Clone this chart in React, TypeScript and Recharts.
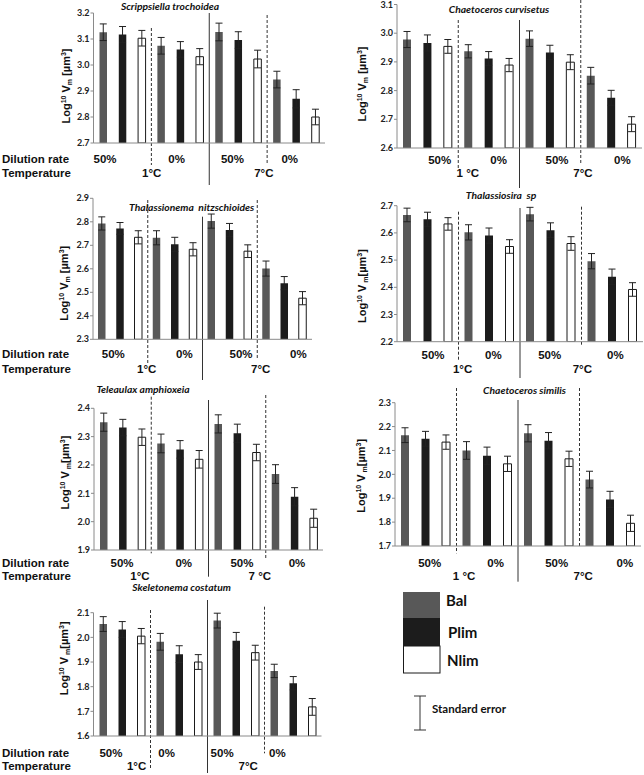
import React from 'react';
import { ComposedChart, Bar, Cell, XAxis, YAxis, ErrorBar, ReferenceLine } from 'recharts';

// ---------- data ----------
const treatments = ['Bal', 'Plim', 'Nlim'];
const dilutionLabels = ['50%', '0%', '50%', '0%'];
const temperatureLabels = ['1°C', '7°C'];
const temperatureLabelsSp1 = ['1 °C', '7°C'];
const temperatureLabelsSp7 = ['1°C', '7 °C'];

// order: 1°C 50% (Bal, Plim, Nlim), 1°C 0%, 7°C 50%, 7°C 0%
const scrippsiellaMean = [3.126, 3.117, 3.103, 3.074, 3.06, 3.032, 3.127, 3.096, 3.023, 2.944, 2.87, 2.8];
const scrippsiellaSE = [0.032, 0.031, 0.03, 0.032, 0.03, 0.031, 0.034, 0.032, 0.034, 0.032, 0.035, 0.03];
const curvisetusMean = [2.978, 2.966, 2.954, 2.937, 2.912, 2.889, 2.981, 2.933, 2.899, 2.852, 2.775, 2.683];
const curvisetusSE = [0.028, 0.028, 0.024, 0.023, 0.024, 0.023, 0.027, 0.025, 0.026, 0.029, 0.026, 0.026];
const thalassionemaMean = [2.793, 2.772, 2.734, 2.732, 2.704, 2.683, 2.803, 2.765, 2.675, 2.601, 2.539, 2.475];
const thalassionemaSE = [0.028, 0.025, 0.028, 0.03, 0.03, 0.028, 0.03, 0.028, 0.027, 0.032, 0.028, 0.028];
const thalassiosiraMean = [2.666, 2.65, 2.633, 2.602, 2.59, 2.55, 2.669, 2.61, 2.561, 2.496, 2.439, 2.392];
const thalassiosiraSE = [0.025, 0.026, 0.023, 0.028, 0.028, 0.025, 0.025, 0.027, 0.025, 0.028, 0.028, 0.025];
const teleaulaxMean = [2.351, 2.332, 2.298, 2.276, 2.255, 2.22, 2.345, 2.312, 2.244, 2.168, 2.088, 2.012];
const teleaulaxSE = [0.032, 0.029, 0.029, 0.033, 0.031, 0.031, 0.032, 0.032, 0.029, 0.033, 0.032, 0.032];
const similisMean = [2.164, 2.149, 2.135, 2.1, 2.078, 2.044, 2.172, 2.141, 2.065, 1.978, 1.895, 1.795];
const similisSE = [0.031, 0.031, 0.03, 0.037, 0.036, 0.032, 0.036, 0.034, 0.032, 0.035, 0.034, 0.034];
const skeletonemaMean = [2.054, 2.032, 2.005, 1.982, 1.932, 1.9, 2.068, 1.986, 1.938, 1.864, 1.814, 1.718];
const skeletonemaSE = [0.03, 0.032, 0.031, 0.034, 0.034, 0.03, 0.03, 0.034, 0.03, 0.027, 0.027, 0.034];

const ticksScrippsiella = [2.7, 2.8, 2.9, 3.0, 3.1, 3.2];
const ticksCurvisetus = [2.6, 2.7, 2.8, 2.9, 3.0, 3.1];
const ticksThalassionema = [2.3, 2.4, 2.5, 2.6, 2.7, 2.8, 2.9];
const ticksThalassiosira = [2.2, 2.3, 2.4, 2.5, 2.6, 2.7];
const ticksTeleaulax = [1.9, 2.0, 2.1, 2.2, 2.3, 2.4];
const ticksSimilis = [1.7, 1.8, 1.9, 2.0, 2.1, 2.2, 2.3];
const ticksSkeletonema = [1.6, 1.7, 1.8, 1.9, 2.0, 2.1];

// ---------- styles / layout ----------
const FILLS = ['#585858', '#1c1c1c', '#ffffff'];
const TICK_FONT = 'Lato, "Open Sans", sans-serif';
const ARIAL = '"Liberation Sans", Arial, sans-serif';

const panels = [
  {
    title: 'Scrippsiella trochoidea', mean: scrippsiellaMean, se: scrippsiellaSE, yTicks: ticksScrippsiella, temps: temperatureLabels,
    L: { box: [0, 0, 330, 192], plot: [93.5, 13, 325, 143], bar: 7.5, title: [170, 10], yl: [69.5, 86], yStyle: 'a', rows: [163, 176.5],
      dilAt: [0.6, 4.31, 7.2, 10.17], tempAt: [3.02, 8.83], solid: [13, 185], dash1: [28, 165], dash2: [15, 165], rowLabels: true },
  },
  {
    title: 'Chaetoceros curvisetus', mean: curvisetusMean, se: curvisetusSE, yTicks: ticksCurvisetus, temps: temperatureLabelsSp1,
    L: { box: [322, 0, 322, 192], plot: [397, 4.5, 642, 148], bar: 8, title: [499, 13], yl: [365.5, 84], yStyle: 'a', rows: [164, 176.5],
      dilAt: [2.09, 4.98, 7.84, 11.04], tempAt: [3.47, 9.11], solid: [20, 188], dash1: [20, 170], dash2: [0, 163], rowLabels: false },
  },
  {
    title: 'Thalassionema  nitzschioides', mean: thalassionemaMean, se: thalassionemaSE, yTicks: ticksThalassionema, temps: temperatureLabels,
    L: { box: [0, 188, 330, 195], plot: [93, 198.3, 312, 339.3], bar: 7.5, title: [191.7, 210.5], yl: [68.5, 283.3], yStyle: 'a', rows: [358.3, 372.5],
      dilAt: [1.11, 5.01, 8.11, 11.25], tempAt: [2.94, 9.19], solid: [216.7, 380], dash1: [200, 363], dash2: [200, 358], rowLabels: true },
  },
  {
    title: 'Thalassiosira  sp', mean: thalassiosiraMean, se: thalassiosiraSE, yTicks: ticksThalassiosira, temps: temperatureLabels,
    L: { box: [322, 188, 322, 195], plot: [397, 205.7, 643, 341.7], bar: 8, title: [501, 199], yl: [365.5, 286], yStyle: 'b', rows: [359, 373],
      dilAt: [1.76, 4.7, 7.45, 10.65], tempAt: [3.2, 9.04], solid: [208, 378], dash1: [211.7, 360], dash2: [206.7, 346.7], rowLabels: false },
  },
  {
    title: 'Teleaulax amphioxeia', mean: teleaulaxMean, se: teleaulaxSE, yTicks: ticksTeleaulax, temps: temperatureLabelsSp7,
    L: { box: [0, 383, 330, 200], plot: [94, 408.3, 323, 550], bar: 7.5, title: [143, 393], yl: [68.5, 472.5], yStyle: 'b', rows: [566.7, 580],
      dilAt: [1.47, 4.7, 7.75, 10.64], tempAt: [2.41, 8.69], solid: [400, 576.7], dash1: [396.7, 553.3], dash2: [395, 558], rowLabels: true },
  },
  {
    title: 'Chaetoceros similis', mean: similisMean, se: similisSE, yTicks: ticksSimilis, temps: temperatureLabelsSp1,
    L: { box: [322, 383, 322, 200], plot: [395, 402.7, 641, 546], bar: 8, title: [524.5, 394], yl: [365.5, 475.8], yStyle: 'b', rows: [566.7, 580],
      dilAt: [1.69, 4.91, 7.89, 11.21], tempAt: [3.37, 9.18], solid: [400, 581.7], dash1: [388, 553.3], dash2: [388, 546.7], rowLabels: false },
  },
  {
    title: 'Skeletonema costatum', mean: skeletonemaMean, se: skeletonemaSE, yTicks: ticksSkeletonema, temps: temperatureLabels,
    L: { box: [0, 580, 330, 195], plot: [93.5, 612.7, 321.5, 736], bar: 7.5, title: [181.7, 591], yl: [68.5, 658.3], yStyle: 'b', rows: [756.7, 770],
      dilAt: [0.92, 3.85, 6.77, 9.68], tempAt: [2.27, 8.14], solid: [600, 773], dash1: [610, 768], dash2: [606.7, 753.3], rowLabels: true },
  },
];

const H1 = 12;
const H2 = 12;
const YW = 30;

function Panel({ p }: { p: any }) {
  const L = p.L;
  const [bl, bt, bw, bh] = L.box;
  const [pl, pt, pr, pb] = L.plot;
  const yMin = p.yTicks[0];
  const yMax = p.yTicks[p.yTicks.length - 1];
  const pxToVal = (py: number) => yMin + ((pb - py) / (pb - pt)) * (yMax - yMin);
  const data = p.mean.map((v: number, i: number) => ({ x: i + 0.5, v, e: p.se[i], t: treatments[i % 3] }));
  const margin = { top: pt - bt, bottom: bt + bh - pb - H1 - H2, left: pl - bl - YW, right: bl + bw - pr };

  const dilTick = (props: any) => {
    const idx = L.dilAt.indexOf(props.payload.value);
    return (
      <text x={props.x} y={L.rows[0] - bt} textAnchor="middle" fontFamily={ARIAL} fontWeight="bold" fontSize={11.5} fill="#111">
        {dilutionLabels[idx]}
      </text>
    );
  };
  const tempTick = (props: any) => {
    const idx = L.tempAt.indexOf(props.payload.value);
    return (
      <text x={props.x} y={L.rows[1] - bt} textAnchor="middle" fontFamily={ARIAL} fontWeight="bold" fontSize={11.5} fill="#111">
        {p.temps[idx]}
      </text>
    );
  };
  const seg = (xv: number, ext: number[]) => [
    { x: xv, y: pxToVal(ext[0]) },
    { x: xv, y: pxToVal(ext[1]) },
  ];

  return (
    <div style={{ position: 'absolute', left: bl, top: bt, width: bw, height: bh }}>
      <ComposedChart width={bw} height={bh} data={data} margin={margin}>
        <XAxis xAxisId={0} type="number" dataKey="x" domain={[0, 12]} ticks={L.dilAt} interval={0} tick={dilTick}
          tickLine={false} tickSize={0} tickMargin={0} axisLine={{ stroke: '#8a8a8a' }} height={H1} allowDataOverflow />
        <XAxis xAxisId="t" type="number" dataKey="x" domain={[0, 12]} ticks={L.tempAt} interval={0} tick={tempTick}
          tickLine={false} tickSize={0} tickMargin={0} axisLine={false} height={H2} allowDataOverflow />
        <YAxis type="number" domain={[yMin, yMax]} ticks={p.yTicks} interval={0} width={YW} allowDataOverflow
          tickFormatter={(v: number) => v.toFixed(1)} tickSize={3} tickMargin={1}
          axisLine={{ stroke: '#8a8a8a' }} tickLine={{ stroke: '#8a8a8a' }}
          tick={{ fontFamily: TICK_FONT, fontWeight: 'bold', fontSize: 9, fill: '#222' }} />
        <Bar dataKey="v" xAxisId={0} barSize={L.bar} isAnimationActive={false}>
          {data.map((d: any, i: number) => (
            <Cell key={i} fill={FILLS[i % 3]} stroke={i % 3 === 2 ? '#1a1a1a' : 'none'} strokeWidth={1} />
          ))}
          <ErrorBar dataKey="e" width={3.5} stroke="#222" strokeWidth={1} direction="y" isAnimationActive={false} />
        </Bar>
        <ReferenceLine xAxisId={0} segment={seg(6, L.solid)} stroke="#333" strokeWidth={1} ifOverflow="visible" />
        <ReferenceLine xAxisId={0} segment={seg(3, L.dash1)} stroke="#333" strokeWidth={1} strokeDasharray="3 2" ifOverflow="visible" />
        <ReferenceLine xAxisId={0} segment={seg(9, L.dash2)} stroke="#333" strokeWidth={1} strokeDasharray="3 2" ifOverflow="visible" />
      </ComposedChart>
    </div>
  );
}

function YLabel({ x, y, style }: { x: number; y: number; style: string }) {
  return (
    <text x={x} y={y} transform={`rotate(-90 ${x} ${y})`} textAnchor="middle" fontFamily={ARIAL} fontWeight="bold" fontSize={11} fill="#111">
      Log<tspan dy={-4} fontSize={7}>10</tspan>
      <tspan dy={4}> V</tspan>
      {style === 'a' ? (
        <>
          <tspan dy={2} fontSize={7}>m</tspan>
          <tspan dy={-2}> [µm</tspan>
        </>
      ) : (
        <>
          <tspan dy={2} fontSize={7}> m</tspan>
          <tspan dy={-2}>[µm</tspan>
        </>
      )}
      <tspan dy={-4} fontSize={7}>3</tspan>
      <tspan dy={4}>]</tspan>
    </text>
  );
}

function Overlay() {
  return (
    <svg width={644} height={775} style={{ position: 'absolute', left: 0, top: 0, pointerEvents: 'none' }}>
      {panels.map((p, i) => (
        <g key={i}>
          <text x={p.L.title[0]} y={p.L.title[1]} textAnchor="middle" fontFamily={TICK_FONT} fontWeight="bold" fontStyle="italic" fontSize={10.3} fill="#111" style={{ whiteSpace: 'pre' }}>
            {p.title}
          </text>
          <YLabel x={p.L.yl[0]} y={p.L.yl[1]} style={p.L.yStyle} />
          {p.L.rowLabels && (
            <>
              <text x={2} y={p.L.rows[0]} fontFamily={ARIAL} fontWeight="bold" fontSize={11.5} fill="#111">Dilution rate</text>
              <text x={2} y={p.L.rows[1]} fontFamily={ARIAL} fontWeight="bold" fontSize={11.5} fill="#111">Temperature</text>
            </>
          )}
        </g>
      ))}
      {/* legend */}
      <rect x={403} y={592} width={37} height={26} fill={FILLS[0]} />
      <rect x={403} y={618} width={37} height={28} fill={FILLS[1]} />
      <rect x={403.5} y={646} width={36.5} height={27} fill={FILLS[2]} stroke="#1a1a1a" strokeWidth={1} />
      <text x={446} y={606} fontFamily={TICK_FONT} fontWeight="bold" fontSize={15} fill="#111">{treatments[0]}</text>
      <text x={448} y={638.3} fontFamily={TICK_FONT} fontWeight="bold" fontSize={15} fill="#111">{treatments[1]}</text>
      <text x={447} y={665.5} fontFamily={TICK_FONT} fontWeight="bold" fontSize={15} fill="#111">{treatments[2]}</text>
      <line x1={420} y1={696} x2={420} y2={730} stroke="#333" strokeWidth={1} />
      <line x1={414} y1={696} x2={426} y2={696} stroke="#333" strokeWidth={1} />
      <line x1={414} y1={730} x2={426} y2={730} stroke="#333" strokeWidth={1} />
      <text x={432} y={713} fontFamily={TICK_FONT} fontWeight="bold" fontSize={11.5} fill="#111">Standard  error</text>
    </svg>
  );
}

export default function App() {
  return (
    <div style={{ position: 'absolute', left: 0, top: 0, width: 644, height: 775, background: '#fff', overflow: 'hidden' }}>
      {panels.map((p, i) => (
        <Panel key={i} p={p} />
      ))}
      <Overlay />
    </div>
  );
}
